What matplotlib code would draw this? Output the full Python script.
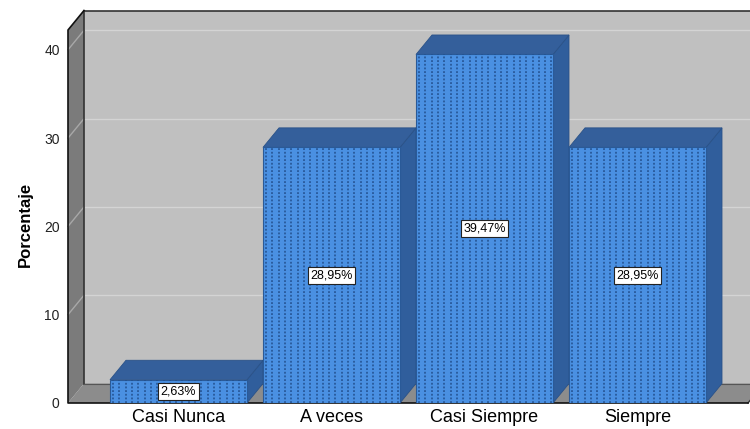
import numpy as np
import matplotlib.pyplot as plt
from matplotlib.patches import Polygon

categorias = ["Casi Nunca", "A veces", "Casi Siempre", "Siempre"]
porcentajes = [2.63, 28.95, 39.47, 28.95]
etiquetas = ["2,63%", "28,95%", "39,47%", "28,95%"]
marcas_y = [0, 10, 20, 30, 40]

plt.rcParams['font.family'] = ['Liberation Sans', 'DejaVu Sans']

fig = plt.figure(figsize=(7.5, 4.29), dpi=100)
ax = fig.add_axes([68/750, 26/429, 680/750, 373/429])

x = np.arange(len(categorias))
x0, x1 = (68 - 178.5)/153, (748 - 178.5)/153
ytop = 373/8.83
dx, dy = 16/153, 19.5/8.83   # profundidad del efecto 3D
ancho = 137/153

ax.set_xlim(x0, x1)
ax.set_ylim(0, ytop)

# paredes
ax.add_patch(Polygon([(x0+dx, dy), (x0+dx, ytop+dy), (x1+0.5, ytop+dy), (x1+0.5, dy)],
                     closed=True, fc='#c0c0c0', ec='none', clip_on=False, zorder=1))
for v in marcas_y[1:]:
    ax.plot([x0+dx, x1+0.5], [v+dy, v+dy], color='#d4d4d4', lw=1, clip_on=False, zorder=1.5)
ax.add_patch(Polygon([(x0, 0), (x1, 0), (x1+dx, dy), (x0+dx, dy)],
                     closed=True, fc='#8c8c8c', ec='none', clip_on=False, zorder=2))
ax.add_patch(Polygon([(x0, 0), (x0, ytop), (x0+dx, ytop+dy), (x0+dx, dy)],
                     closed=True, fc='#7b7b7b', ec='none', clip_on=False, zorder=2))
for v in marcas_y[1:]:
    ax.plot([x0, x0+dx], [v, v+dy], color='#a8a8a8', lw=1, clip_on=False, zorder=2.2)
ax.plot([x0+dx, x0+dx, x1+0.5], [dy, ytop+dy, ytop+dy], color='#333333', lw=1.2,
        clip_on=False, zorder=2.5)
ax.plot([x0+dx, x1+dx], [dy, dy], color='#555555', lw=0.8, clip_on=False, zorder=2.5)
ax.plot([x1, x1+dx], [0, dy], color='#333333', lw=1, clip_on=False, zorder=2.5)
ax.plot([x0+dx, x0, x0, x1], [ytop+dy, ytop, 0, 0], color='#111111', lw=1.2,
        clip_on=False, zorder=2.6)

# barras
for xi, v in zip(x, porcentajes):
    l, r = xi - ancho/2, xi + ancho/2
    ax.add_patch(Polygon([(r, 0), (r, v), (r+dx, v+dy), (r+dx, dy)], closed=True,
                         fc='#305e9c', ec='#2a5288', lw=0.6, clip_on=False, zorder=3))
    ax.add_patch(Polygon([(l, v), (l+dx, v+dy), (r+dx, v+dy), (r, v)], closed=True,
                         fc='#345f9b', ec='#2a5288', lw=0.6, clip_on=False, zorder=3))
barras = ax.bar(x, porcentajes, width=ancho, color='#4a90e2', edgecolor='#2a5a98',
                linewidth=0.8, zorder=4)

# textura punteada de las barras
paso = 6.3/153
for b, xi, v in zip(barras, x, porcentajes):
    xs = np.arange(xi - ancho/2 + paso/2, xi + ancho/2, paso)
    lv = ax.vlines(xs, 0, v, colors='#22508e', linewidth=1.1,
                   linestyles=(0, (1.2, 1.2)), zorder=4.5)
    lv.set_clip_path(b)

for xi, v, t in zip(x, porcentajes, etiquetas):
    ax.text(xi, v/2, t, ha='center', va='center', fontsize=9, zorder=5,
            bbox=dict(boxstyle='square,pad=0.2', fc='white', ec='#222222', lw=0.8))

ax.set_xticks(x)
ax.set_xticklabels(categorias, fontsize=13)
ax.set_yticks(marcas_y)
ax.set_yticklabels([str(v) for v in marcas_y], fontsize=10, color='#222222')
ax.tick_params(length=0)
ax.tick_params(axis='x', pad=4)
ax.tick_params(axis='y', pad=6)
ax.set_ylabel("Porcentaje", fontsize=12, fontweight='bold')
ax.yaxis.set_label_coords(-0.052, 0.48)
for s in ax.spines.values():
    s.set_visible(False)

fig.savefig("out.png", dpi=100)
